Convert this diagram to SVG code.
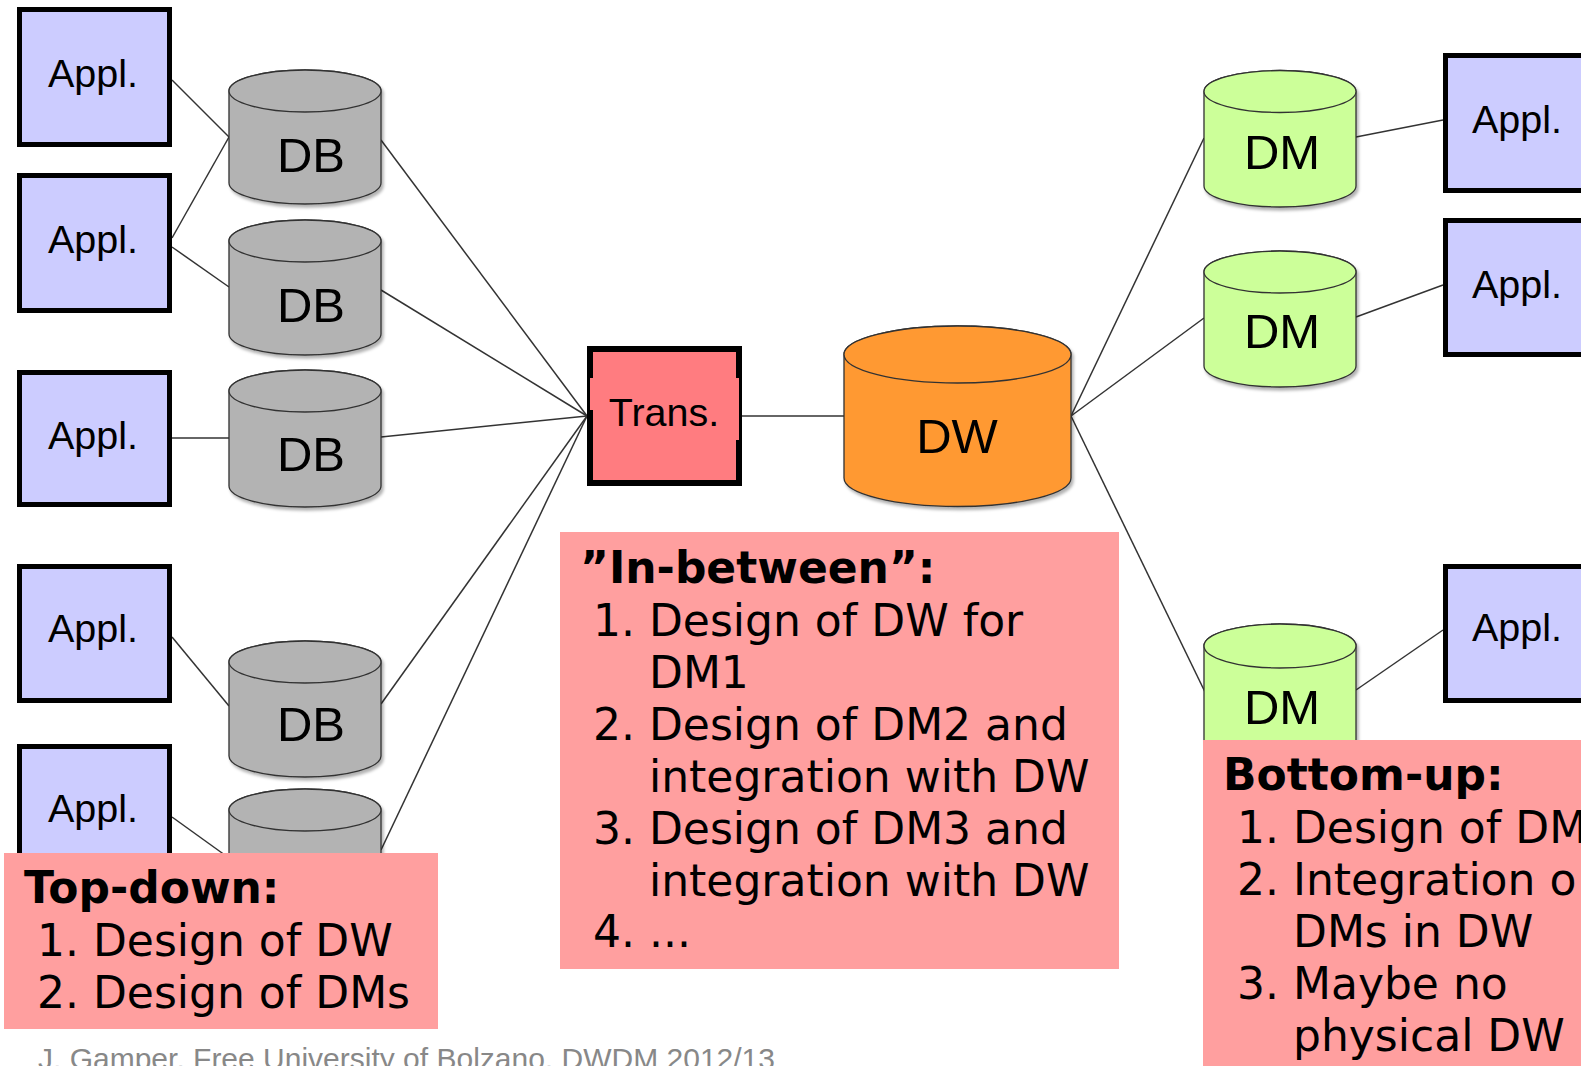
<svg xmlns="http://www.w3.org/2000/svg" width="1581" height="1066" viewBox="0 0 1581 1066">
<defs>
<filter id="sh" x="-10%" y="-10%" width="130%" height="130%">
<feDropShadow dx="2" dy="3" stdDeviation="1.5" flood-color="#000" flood-opacity="0.3"/>
</filter>
<style>
.appl{fill:#CCCCFF;stroke:#000;stroke-width:5}
.lbl{font-family:"Liberation Sans",Arial,sans-serif;fill:#000;text-anchor:middle}
.al{font-size:39.5px}
.cl{font-size:49px}
.cyl{stroke:#333;stroke-width:1.3}
.db{fill:#B3B3B3}
.dm{fill:#CCFF99}
.dw{fill:#FF9933}
.con{stroke:#333;stroke-width:1.5;fill:none}
.note{fill:#FF9F9F}
.nt{font-family:"DejaVu Sans",Verdana,sans-serif;font-size:44px;fill:#000}
.nh{font-weight:bold}
</style>
</defs>
<rect width="1581" height="1066" fill="#fff"/>
<g id="connectors">
<line class="con" x1="172" y1="80" x2="229" y2="137"/>
<line class="con" x1="172" y1="238" x2="229" y2="137"/>
<line class="con" x1="172" y1="247" x2="229" y2="287"/>
<line class="con" x1="172" y1="438" x2="229" y2="438"/>
<line class="con" x1="172" y1="637" x2="229" y2="706"/>
<line class="con" x1="172" y1="817" x2="229" y2="858"/>
<line class="con" x1="381" y1="140" x2="587" y2="416"/>
<line class="con" x1="381" y1="290" x2="587" y2="416"/>
<line class="con" x1="381" y1="437" x2="587" y2="416"/>
<line class="con" x1="381" y1="704" x2="587" y2="416"/>
<line class="con" x1="381" y1="850" x2="587" y2="416"/>
<line class="con" x1="742" y1="416" x2="844" y2="416"/>
<line class="con" x1="1071" y1="416" x2="1204" y2="138"/>
<line class="con" x1="1071" y1="416" x2="1204" y2="318"/>
<line class="con" x1="1071" y1="416" x2="1205" y2="692"/>
<line class="con" x1="1356" y1="137" x2="1443" y2="120"/>
<line class="con" x1="1356" y1="317" x2="1443" y2="285"/>
<line class="con" x1="1356" y1="690" x2="1443" y2="630"/>
</g>
<g id="appl-l1"><rect class="appl" x="19.5" y="9.5" width="150" height="135"/><text class="lbl al" x="93" y="87">Appl.</text></g>
<g id="appl-l2"><rect class="appl" x="19.5" y="175.5" width="150" height="135"/><text class="lbl al" x="93" y="253">Appl.</text></g>
<g id="appl-l3"><rect class="appl" x="19.5" y="372.5" width="150" height="132"/><text class="lbl al" x="93" y="449">Appl.</text></g>
<g id="appl-l4"><rect class="appl" x="19.5" y="566.5" width="150" height="134"/><text class="lbl al" x="93" y="642">Appl.</text></g>
<g id="appl-l5"><rect class="appl" x="19.5" y="746.5" width="150" height="135"/><text class="lbl al" x="93" y="822">Appl.</text></g>
<g id="appl-r1"><rect class="appl" x="1445.5" y="55.5" width="150" height="135"/><text class="lbl al" x="1517" y="133">Appl.</text></g>
<g id="appl-r2"><rect class="appl" x="1445.5" y="220.5" width="150" height="134"/><text class="lbl al" x="1517" y="298">Appl.</text></g>
<g id="appl-r3"><rect class="appl" x="1445.5" y="566.5" width="150" height="134"/><text class="lbl al" x="1517" y="641">Appl.</text></g>
<g id="db1"><g filter="url(#sh)"><path class="cyl db" d="M229 91 A76 21 0 0 1 381 91 V183 A76 21 0 0 1 229 183 Z"/><ellipse class="cyl db" cx="305" cy="91" rx="76" ry="21"/></g><text class="lbl cl" x="311" y="172">DB</text></g>
<g id="db2"><g filter="url(#sh)"><path class="cyl db" d="M229 241 A76 21 0 0 1 381 241 V334 A76 21 0 0 1 229 334 Z"/><ellipse class="cyl db" cx="305" cy="241" rx="76" ry="21"/></g><text class="lbl cl" x="311" y="322">DB</text></g>
<g id="db3"><g filter="url(#sh)"><path class="cyl db" d="M229 391 A76 21 0 0 1 381 391 V486 A76 21 0 0 1 229 486 Z"/><ellipse class="cyl db" cx="305" cy="391" rx="76" ry="21"/></g><text class="lbl cl" x="311" y="471">DB</text></g>
<g id="db4"><g filter="url(#sh)"><path class="cyl db" d="M229 662 A76 21 0 0 1 381 662 V756 A76 21 0 0 1 229 756 Z"/><ellipse class="cyl db" cx="305" cy="662" rx="76" ry="21"/></g><text class="lbl cl" x="311" y="741">DB</text></g>
<g id="db5"><g filter="url(#sh)"><path class="cyl db" d="M229 810 A76 21 0 0 1 381 810 V904 A76 21 0 0 1 229 904 Z"/><ellipse class="cyl db" cx="305" cy="810" rx="76" ry="21"/></g></g>
<g id="trans">
<rect x="590" y="349" width="149" height="134" fill="#FF7C80" stroke="#000" stroke-width="6"/>
<rect x="590" y="378" width="3" height="32" fill="#FF7C80"/>
<rect x="736" y="378" width="3" height="62" fill="#FF7C80"/>
<text class="lbl al" x="664" y="426">Trans.</text>
</g>
<g id="dw"><g filter="url(#sh)"><path class="cyl dw" d="M844 354.5 A113.5 28.5 0 0 1 1071 354.5 V478 A113.5 28.5 0 0 1 844 478 Z"/><ellipse class="cyl dw" cx="957.5" cy="354.5" rx="113.5" ry="28.5"/></g><text class="lbl cl" x="957" y="453">DW</text></g>
<g id="dm1"><g filter="url(#sh)"><path class="cyl dm" d="M1204 91.5 A76 21 0 0 1 1356 91.5 V186 A76 21 0 0 1 1204 186 Z"/><ellipse class="cyl dm" cx="1280" cy="91.5" rx="76" ry="21"/></g><text class="lbl cl" x="1282" y="169">DM</text></g>
<g id="dm2"><g filter="url(#sh)"><path class="cyl dm" d="M1204 272 A76 21 0 0 1 1356 272 V366 A76 21 0 0 1 1204 366 Z"/><ellipse class="cyl dm" cx="1280" cy="272" rx="76" ry="21"/></g><text class="lbl cl" x="1282" y="348">DM</text></g>
<g id="dm3"><g filter="url(#sh)"><path class="cyl dm" d="M1204 646 A76 22 0 0 1 1356 646 V740 A76 22 0 0 1 1204 740 Z"/><ellipse class="cyl dm" cx="1280" cy="646" rx="76" ry="22"/></g><text class="lbl cl" x="1282" y="724">DM</text></g>
<g id="note-topdown">
<rect class="note" x="4" y="853" width="434" height="176"/>
<text class="nt nh" x="24" y="903">Top-down:</text>
<text class="nt" x="37" y="956">1. Design of DW</text>
<text class="nt" x="37" y="1008">2. Design of DMs</text>
</g>
<g id="note-inbetween">
<rect class="note" x="560" y="532" width="559" height="437"/>
<text class="nt nh" x="580" y="583">”In-between”:</text>
<text class="nt" x="593" y="636">1. Design of DW for</text>
<text class="nt" x="649" y="688">DM1</text>
<text class="nt" x="593" y="740">2. Design of DM2 and</text>
<text class="nt" x="649" y="792">integration with DW</text>
<text class="nt" x="593" y="844">3. Design of DM3 and</text>
<text class="nt" x="649" y="896">integration with DW</text>
<text class="nt" x="593" y="947">4. ...</text>
</g>
<g id="note-bottomup">
<rect class="note" x="1203" y="740" width="378" height="326"/>
<text class="nt nh" x="1223" y="790">Bottom-up:</text>
<text class="nt" x="1237" y="843">1. Design of DM</text>
<text class="nt" x="1237" y="895">2. Integration o</text>
<text class="nt" x="1293" y="947">DMs in DW</text>
<text class="nt" x="1237" y="999">3. Maybe no</text>
<text class="nt" x="1293" y="1051">physical DW</text>
</g>
<text x="38" y="1069" font-family="'Liberation Sans',Arial,sans-serif" font-size="30" fill="#888">J. Gamper, Free University of Bolzano, DWDM 2012/13</text>
</svg>
